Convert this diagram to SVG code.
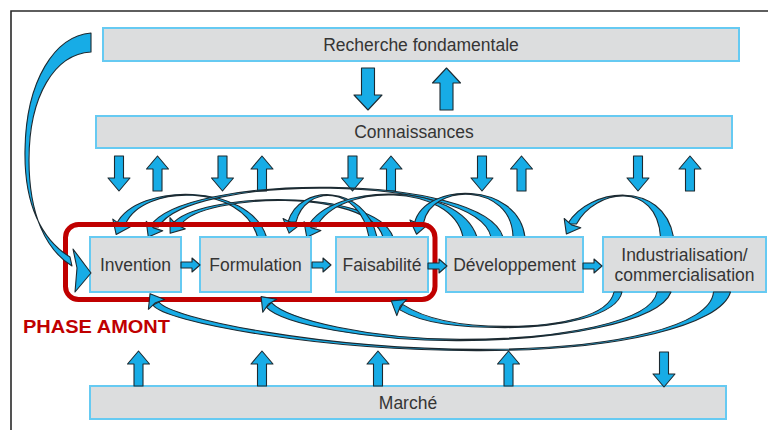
<svg xmlns="http://www.w3.org/2000/svg" width="768" height="430" viewBox="0 0 768 430">
  <style>
    .box { fill: #dcddde; stroke: #66caf2; stroke-width: 2; }
    .lbl { font-family: "Liberation Sans", Arial, sans-serif; font-size: 17.5px; fill: #353535; text-anchor: middle; }
    .bl { fill: #17ace6; stroke: #1d2a31; stroke-width: 1.1; stroke-linejoin: round; }
    .cl { fill: none; stroke: none; marker-end: url(#hd); }
    .phase { fill: none; stroke: #c00000; stroke-width: 5; }
  </style>
  <defs>
    <marker id="hd" markerUnits="userSpaceOnUse" viewBox="-2 -11 16 22" markerWidth="16" markerHeight="22" refX="0" refY="0" orient="auto" overflow="visible">
      <path class="bl" d="M-1,-9.5 L11.5,0 L-1,9.5 L1,0 Z"/>
    </marker>
    <!-- block arrows, drawn pointing down from y=0 -->
    <path id="arT" class="bl" d="M-6.5,0 H6.5 V27 H14 L0,42 L-14,27 H-6.5 Z"/>
    <path id="arM" class="bl" d="M-4.5,0 H4.5 V22 H11 L0,35 L-11,22 H-4.5 Z"/>
    <path id="arS" class="bl" d="M0,-3 H11 V-7 L19,0 L11,7 V3 H0 Z"/>
  </defs>

  <rect width="768" height="430" fill="#ffffff"/>
  <path d="M11,430 V11 H768" fill="none" stroke="#2a2a2a" stroke-width="1.6"/>

  <!-- horizontal levels -->
  <g id="recherche">
    <rect class="box" x="103" y="28" width="636" height="33"/>
    <text class="lbl" x="421" y="51">Recherche fondamentale</text>
  </g>
  <g id="connaissances">
    <rect class="box" x="96" y="116" width="636" height="32"/>
    <text class="lbl" x="414" y="138">Connaissances</text>
  </g>
  <g id="marche">
    <rect class="box" x="90" y="386" width="636" height="33"/>
    <text class="lbl" x="408" y="409">Marché</text>
  </g>

  <g id="connectors">
    <!-- exchanges between levels -->
    <use href="#arT" transform="translate(368,68)"/>
    <use href="#arT" transform="translate(446.5,110) scale(1,-1)"/>

    <use href="#arM" transform="translate(119,156)"/>
    <use href="#arM" transform="translate(157.5,191) scale(1,-1)"/>
    <use href="#arM" transform="translate(222.5,156)"/>
    <use href="#arM" transform="translate(262,191) scale(1,-1)"/>
    <use href="#arM" transform="translate(352.5,156)"/>
    <use href="#arM" transform="translate(391,191) scale(1,-1)"/>
    <use href="#arM" transform="translate(482,156)"/>
    <use href="#arM" transform="translate(521.5,191) scale(1,-1)"/>
    <use href="#arM" transform="translate(638,156)"/>
    <use href="#arM" transform="translate(690,191) scale(1,-1)"/>

    <use href="#arM" transform="translate(138.5,386) scale(1,-1)"/>
    <use href="#arM" transform="translate(262,386) scale(1,-1)"/>
    <use href="#arM" transform="translate(378,386) scale(1,-1)"/>
    <use href="#arM" transform="translate(508.5,386) scale(1,-1)"/>
    <use href="#arM" transform="translate(664,352)"/>

    <!-- feedback loops above the stages -->
    <path class="bl" d="M266.5,237 C249,182.4 137,182.4 116.5,224 L125.5,224 C143,183.6 243,183.6 257.5,237 Z"/>
    <path class="cl" d="M262,237 C246,183 140,183 121,224"/>
    <path class="bl" d="M393,237 C375,186.4 197,192.4 172.5,224 L181.5,224 C203,193.6 369,187.6 383,237 Z"/>
    <path class="cl" d="M388,237 C372,187 200,193 177,224"/>
    <path class="bl" d="M503,237 C483,172.4 182,172.4 149.5,227 L158.5,227 C188,173.6 477,173.6 491,237 Z"/>
    <path class="cl" d="M497,237 C480,173 185,173 154,227"/>
    <path class="bl" d="M377,237 C364.5,183.4 299,183.4 288,222 L296,222 C305,184.6 359.5,184.6 369,237 Z"/>
    <path class="cl" d="M373,237 C362,184 302,184 292,222"/>
    <path class="bl" d="M477,237 C458,181.4 332,181.4 307.5,227 L316.5,227 C338,182.6 452,182.6 463,237 Z"/>
    <path class="cl" d="M470,237 C455,182 335,182 312,227"/>
    <path class="bl" d="M525,237 C518,181.4 425,181.4 414.5,223 L423.5,223 C431,182.6 512,182.6 513,237 Z"/>
    <path class="cl" d="M519,237 C515,182 428,182 419,223"/>
    <path class="bl" d="M673.5,237 C663,179.4 589,187.4 567.5,224 L576.5,224 C595,188.6 657,180.6 660.5,237 Z"/>
    <path class="cl" d="M667,237 C660,180 592,188 572,224"/>
  </g>

  <!-- process stages -->
  <g id="invention">
    <rect class="box" x="90" y="237" width="91" height="55"/>
    <text class="lbl" x="135.5" y="271">Invention</text>
  </g>
  <g id="formulation">
    <rect class="box" x="200" y="237" width="111" height="55"/>
    <text class="lbl" x="255.5" y="271">Formulation</text>
  </g>
  <g id="faisabilite">
    <rect class="box" x="336" y="237" width="92" height="55"/>
    <text class="lbl" x="382" y="271">Faisabilité</text>
  </g>
  <g id="developpement">
    <rect class="box" x="446" y="237" width="137" height="55"/>
    <text class="lbl" x="514.5" y="271">Développement</text>
  </g>
  <g id="industrialisation">
    <rect class="box" x="603" y="237" width="163" height="55"/>
    <text class="lbl" x="684.5" y="261">Industrialisation/</text>
    <text class="lbl" x="684.5" y="280.5">commercialisation</text>
  </g>

  <!-- upstream phase frame -->
  <g id="phase-amont">
    <rect class="phase" x="65.5" y="224.5" width="369.5" height="75" rx="13"/>
    <text x="23" y="333" textLength="147" lengthAdjust="spacingAndGlyphs" font-family="Liberation Sans, Arial, sans-serif" font-size="19" font-weight="bold" fill="#c00000">PHASE AMONT</text>
  </g>

  <g id="connectors-front">
    <!-- loops from industrialisation back to earlier stages, below -->
    <path class="bl" d="M730.5,292 C721,325 620,350.6 480,350.6 C320,351 163,321.8 153,305 L159,302 C169.5,318.2 320,349 480,349.4 C620,349.4 711,325 713.5,292 Z"/>
    <path class="cl" d="M722,292 C716,325 620,350 480,350 C320,350 166,320 156,303.5"/>
    <path class="bl" d="M671,292 C660,322 560,340.6 460,340.6 C370,341 282.5,324.4 266.5,307.4 L271.5,302.6 C287.5,319.6 370,339 460,339.4 C560,339.4 652,322 657,292 Z"/>
    <path class="cl" d="M664,292 C656,322 560,340 460,340 C370,340 285,322 269,305"/>
    <path class="bl" d="M622,292 C617,316 560,327.6 505,327.6 C460,327.6 423.7,324.1 399.4,309.6 L402.6,304.4 C426.3,319.9 460,326.4 505,326.4 C560,326.4 609,316 614,292 Z"/>
    <path class="cl" d="M618,292 C613,316 560,327 505,327 C460,327 425,322 401,307"/>

    <!-- from fundamental research straight into invention -->
    <path class="bl" d="M91,33 C55,36 26,80 25,150 C24,205 42,240 70,257 L72,266 C46,250 29,215 29,160 C29,95 55,54 91,52 Z"/>
    <path class="bl" d="M73,249 L91,273 L75,292 L77,268 Z"/>

    <!-- stage to stage -->
    <use href="#arS" transform="translate(181,265)"/>
    <use href="#arS" transform="translate(312,265)"/>
    <use href="#arS" transform="translate(428,266)"/>
    <use href="#arS" transform="translate(583,266)"/>
  </g>
</svg>
